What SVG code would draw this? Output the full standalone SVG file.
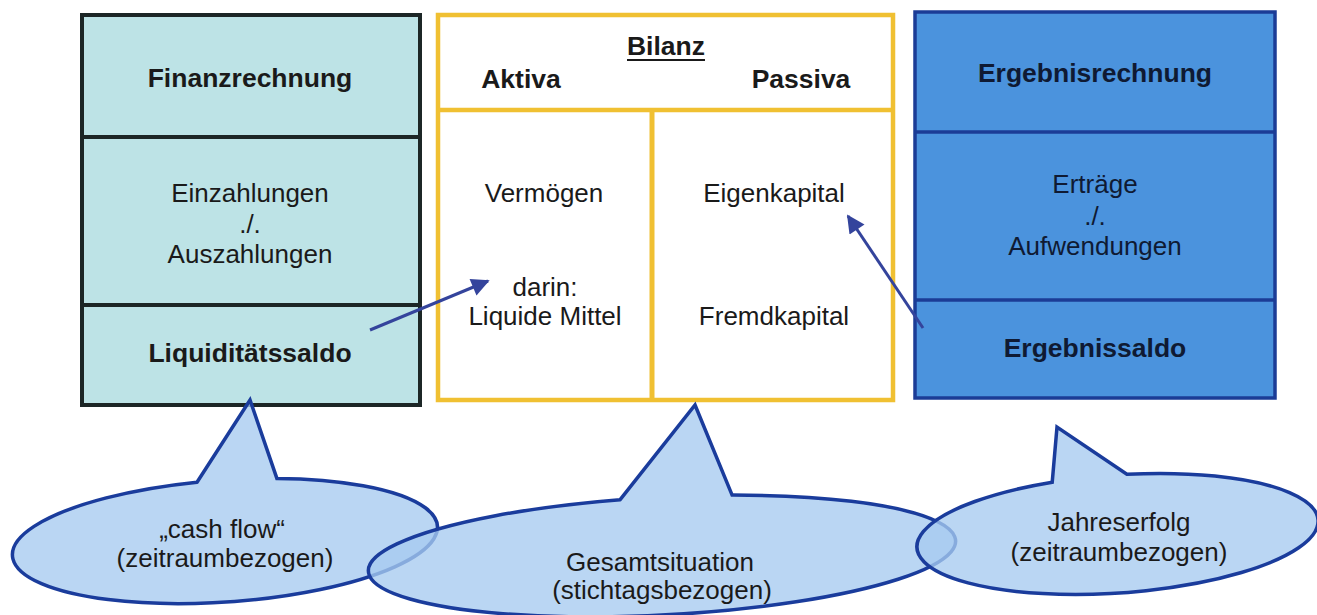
<svg xmlns="http://www.w3.org/2000/svg" width="1317" height="615" viewBox="0 0 1317 615">
<style>
text{font-family:"Liberation Sans",Arial,sans-serif;font-size:26px;text-anchor:middle;fill:#1a1a1a}
.b{font-weight:bold;font-size:26.5px}
.rt{fill:#0f1a33}
.call{fill:#a6cbef;fill-opacity:0.78;stroke:#1a3c9c;stroke-width:3.5;stroke-linejoin:miter}
.conn{stroke:#34449c;stroke-width:3;fill:none;marker-end:url(#ah)}
</style>
<defs>
<marker id="ah" viewBox="0 0 10 10" refX="9" refY="5" markerWidth="6.5" markerHeight="6" orient="auto" markerUnits="strokeWidth">
<path d="M0,0 L10,5 L0,10 Z" fill="#34449c"/>
</marker>
</defs>
<rect width="1317" height="615" fill="#ffffff"/>

<g id="finanzrechnung">
<rect x="82" y="15" width="338" height="390" fill="#bde3e6" stroke="#1c2626" stroke-width="4"/>
<line x1="82" y1="137" x2="420" y2="137" stroke="#1c2626" stroke-width="4"/>
<line x1="82" y1="305" x2="420" y2="305" stroke="#1c2626" stroke-width="4"/>
<text class="b" x="250" y="87">Finanzrechnung</text>
<text x="250" y="202">Einzahlungen</text>
<text x="250" y="233">./.</text>
<text x="250" y="263">Auszahlungen</text>
<text class="b" x="250" y="362">Liquiditätssaldo</text>
</g>

<g id="bilanz">
<rect x="438" y="15" width="455" height="385" fill="#ffffff" stroke="#f0c032" stroke-width="4.5"/>
<line x1="438" y1="110" x2="893" y2="110" stroke="#f0c032" stroke-width="4.5"/>
<line x1="652" y1="110" x2="652" y2="400" stroke="#f0c032" stroke-width="5"/>
<text class="b" x="666" y="55">Bilanz</text>
<line x1="627" y1="60" x2="705" y2="60" stroke="#1a1a1a" stroke-width="2"/>
<text class="b" x="521" y="88">Aktiva</text>
<text class="b" x="801" y="88">Passiva</text>
<text x="544" y="202">Vermögen</text>
<text x="774" y="202">Eigenkapital</text>
<text x="545" y="296">darin:</text>
<text x="545" y="325">Liquide Mittel</text>
<text x="774" y="325">Fremdkapital</text>
</g>

<g id="ergebnisrechnung">
<rect x="915" y="12" width="360" height="386" fill="#4b93dd" stroke="#1b3c96" stroke-width="3.5"/>
<line x1="915" y1="132" x2="1275" y2="132" stroke="#1b3c96" stroke-width="3.5"/>
<line x1="915" y1="300" x2="1275" y2="300" stroke="#1b3c96" stroke-width="3.5"/>
<text class="b rt" x="1095" y="82">Ergebnisrechnung</text>
<text class="rt" x="1095" y="193">Erträge</text>
<text class="rt" x="1095" y="225">./.</text>
<text class="rt" x="1095" y="255">Aufwendungen</text>
<text class="b rt" x="1095" y="357">Ergebnissaldo</text>
</g>

<g id="connectors">
<line class="conn" x1="370" y1="330" x2="488" y2="281"/>
<line class="conn" x1="923" y1="328" x2="848" y2="216"/>
</g>

<g id="callout-cashflow">
<path class="call" transform="rotate(-4 225 541)" d="M201.19,480.38 L259.8,402.1 L281.13,482.16 A213 61 0 1 1 201.19,480.38 Z"/>
<text x="222" y="538">„cash flow“</text>
<text x="225" y="567">(zeitraumbezogen)</text>
</g>

<g id="callout-gesamtsituation">
<path class="call" transform="rotate(-3 662 556)" d="M623.15,497.52 L702.9,406.9 L735.2,498.86 A294 59 0 1 1 623.15,497.52 Z"/>
<text x="660" y="571">Gesamtsituation</text>
<text x="662" y="599">(stichtagsbezogen)</text>
</g>

<g id="callout-jahreserfolg">
<path class="call" transform="rotate(-4 1117 534)" d="M1056,477.8 L1064.6,423.1 L1131,475.1 A201 59 0 1 1 1056,477.8 Z"/>
<text x="1119" y="531">Jahreserfolg</text>
<text x="1119" y="561">(zeitraumbezogen)</text>
</g>
</svg>
